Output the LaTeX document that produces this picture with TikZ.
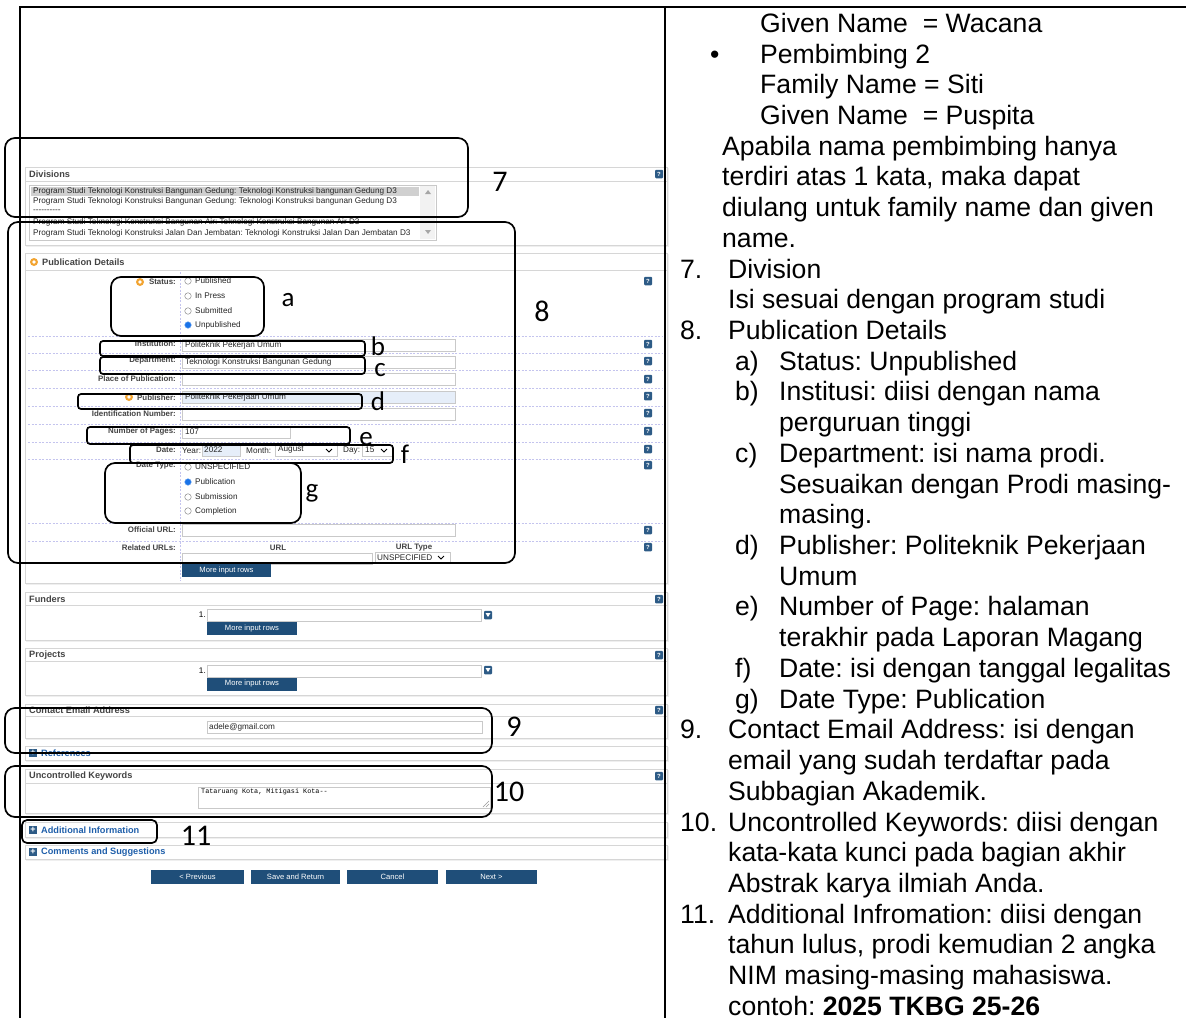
\documentclass[tikz,border=0pt]{standalone}
\usepackage{fontspec}
\setmainfont{Liberation Sans}
\setmonofont{Liberation Mono}
\newfontfamily\annfont{Carlito}
\frenchspacing
\definecolor{panelgray}{HTML}{D6D6D6}
\definecolor{shadowgray}{HTML}{EFEFEF}
\definecolor{inputgray}{HTML}{C9C9C9}
\definecolor{dashblue}{HTML}{C4C4EE}
\definecolor{helpblue}{HTML}{2D5B86}
\definecolor{btnblue}{HTML}{1F4E79}
\definecolor{linkblue}{HTML}{1F5FAA}
\definecolor{selgray}{HTML}{D0D0D0}
\definecolor{inputblue}{HTML}{E6EEF9}
\definecolor{orangeic}{HTML}{F2A431}
\definecolor{hdrgray}{HTML}{444444}
\definecolor{radioblue}{HTML}{1A73E8}
\newcommand\bigtxt{\fontsize{26.6}{30}\selectfont}
\newcommand\smtxt{\fontsize{8.2}{9}\selectfont}
\newcommand\lbtxt{\fontsize{7.9}{9}\selectfont\bfseries}
\newcommand\hdtxt{\fontsize{9.2}{10}\selectfont\bfseries}
\newcommand\rowy[1]{32.3+30.72*#1}
\tikzset{
  rt/.style={anchor=base west, inner sep=0, font=\bigtxt},
  panel/.style={draw=panelgray, fill=white, line width=0.8pt},
  pshadow/.style={fill=shadowgray},
  sepline/.style={draw=panelgray, line width=0.6pt},
  inp/.style={draw=inputgray, fill=white, line width=0.6pt},
  inpblue/.style={draw=inputgray, fill=inputblue, line width=0.6pt},
  hdr/.style={anchor=west, inner sep=0, font=\hdtxt, text=hdrgray},
  lbl/.style={anchor=east, inner sep=0, font=\lbtxt, text=hdrgray},
  sm/.style={anchor=west, inner sep=0, font=\smtxt, text=black!85},
  helpic/.style={fill=helpblue, minimum width=8pt, minimum height=8.5pt, inner sep=0, rounded corners=1pt, text=white, font=\fontsize{6}{6}\selectfont\bfseries},
  plusic/.style={fill=helpblue, minimum width=8pt, minimum height=8pt, inner sep=0, text=white, font=\fontsize{9}{9}\selectfont\bfseries},
  radio/.style={circle, draw=black!45, fill=white, minimum size=6.5pt, inner sep=0, line width=0.5pt},
  radiosel/.style={circle, draw=radioblue!70, fill=radioblue, minimum size=6.5pt, inner sep=0, line width=0.5pt},
  btn/.style={fill=btnblue, text=white, inner sep=0, font=\fontsize{7.6}{8}\selectfont},
  dashrow/.style={draw=dashblue, line width=0.6pt, dash pattern=on 2pt off 1.5pt},
  annot/.style={draw=black, line width=1.7pt, rounded corners=10pt},
  annotsm/.style={draw=black, line width=1.7pt, rounded corners=3pt},
  annlbl/.style={inner sep=0, font=\annfont\fontsize{30}{30}\selectfont},
  annlet/.style={inner sep=0, font=\annfont\fontsize{27}{27}\selectfont},
  link/.style={anchor=west, inner sep=0, font=\hdtxt, text=linkblue},
  orangeic/.style={circle, fill=orangeic, minimum size=8pt, inner sep=0},
  chev/.style={draw=black, line width=1pt},
  border/.style={draw=black, line width=2pt}
}
\begin{document}
\begin{tikzpicture}[x=1pt,y=-1pt]
\useasboundingbox (0,0) rectangle (1186,1018);
\fill[white] (0,0) rectangle (1186,1018);

% ===== Divisions panel =====
\fill[pshadow] (26,168) rectangle (669,247);
\draw[panel] (25,167) rectangle (667,245);
\draw[sepline] (25,181) -- (667,181);
\node[hdr] (hdiv) at (29,174) {Divisions};
\node[helpic] (qdiv) at (659,174) {?};
\draw[inp] (29,185) rectangle (436,240);
\fill[selgray] (31,187) rectangle (419,196);
\fill[black!5] (420,186) rectangle (435,239);
\fill[black!35] (425,194) -- (431,194) -- (428,190) -- cycle;
\fill[black!35] (425,230) -- (431,230) -- (428,234) -- cycle;
\node[sm] (d1) at (33,191) {Program Studi Teknologi Konstruksi Bangunan Gedung: Teknologi Konstruksi bangunan Gedung D3};
\node[sm] (d2) at (33,201) {Program Studi Teknologi Konstruksi Bangunan Gedung: Teknologi Konstruksi bangunan Gedung D3};
\node[sm] (d3) at (33,211) {-{}-{}-{}-{}-{}-{}-{}-{}-{}-};
\node[sm] (d4) at (33,222) {Program Studi Teknologi Konstruksi Bangunan Air: Teknologi Konstruksi Bangunan Air D3};
\node[sm] (d5) at (33,233) {Program Studi Teknologi Konstruksi Jalan Dan Jembatan: Teknologi Konstruksi Jalan Dan Jembatan D3};

% ===== Publication Details panel =====
\fill[pshadow] (26,254) rectangle (669,585);
\draw[panel] (25,253) rectangle (667,583);
\draw[sepline] (25,270) -- (667,270);
\node[orangeic] (opd) at (34,262) {};
\fill[white] (opd.center) circle (1.8pt);
\node[hdr] (hpd) at (42,262) {Publication Details};
\draw[dashrow] (180,272) -- (180,581);
\foreach \yy in {336,353,370,388,406,424,442,459,523,541}
  \draw[dashrow] (28,\yy) -- (663,\yy);

% Status
\node[orangeic] (ost) at (140,282) {};
\fill[white] (ost.center) circle (1.8pt);
\node[lbl] (lst) at (176,282) {Status:};
\node[radio] (r1) at (188,281) {};
\node[sm] (s1) at (195,281) {Published};
\node[radio] (r2) at (188,296) {};
\node[sm] (s2) at (195,296) {In Press};
\node[radio] (r3) at (188,311) {};
\node[sm] (s3) at (195,311) {Submitted};
\node[radiosel] (r4) at (188,325) {};
\node[sm] (s4) at (195,325) {Unpublished};
\node[helpic] (q1) at (648,281) {?};

% Institution
\node[lbl] (linst) at (176,344) {Institution:};
\draw[inp] (182,339) rectangle (455,351);
\node[sm] (vinst) at (185,345) {Politeknik Pekerjan Umum};
\node[helpic] (q2) at (648,344) {?};
% Department
\node[lbl] (ldep) at (176,361) {Department:};
\draw[inp] (182,356) rectangle (455,368);
\node[sm] (vdep) at (185,362) {Teknologi Konstruksi Bangunan Gedung};
\node[helpic] (q3) at (648,361) {?};
% Place
\node[lbl] (lplace) at (176,379) {Place of Publication:};
\draw[inp] (182,373) rectangle (455,385);
\node[helpic] (q4) at (648,379) {?};
% Publisher
\node[orangeic] (opub) at (129,397) {};
\fill[white] (opub.center) circle (1.8pt);
\node[lbl] (lpub) at (176,398) {Publisher:};
\draw[inpblue] (182,391) rectangle (455,403);
\node[sm] (vpub) at (185,397) {Politeknik Pekerjaan Umum};
\node[helpic] (q5) at (648,396) {?};
% Identification
\node[lbl] (lid) at (176,414) {Identification Number:};
\draw[inp] (182,408) rectangle (455,420);
\node[helpic] (q6) at (648,413) {?};
% Pages
\node[lbl] (lpg) at (176,431) {Number of Pages:};
\draw[inp] (182,426) rectangle (290,438);
\node[sm] (vpg) at (185,432) {107};
\node[helpic] (q7) at (648,431) {?};
% Date
\node[lbl] (ldate) at (176,450) {Date:};
\node[sm] (yr) at (182,451) {Year:};
\draw[inpblue] (202,445) rectangle (240,456);
\node[sm] (vyr) at (204,450) {2022};
\node[sm] (mo) at (246,451) {Month:};
\draw[inp] (275,445) rectangle (337,456);
\node[sm] (vmo) at (278,450) {August};
\draw[chev] (326,449) -- (329,452) -- (332,449);
\node[sm] (dy) at (343,451) {Day:};
\draw[inp] (362,445) rectangle (392,456);
\node[sm] (vdy) at (365,450) {15};
\draw[chev] (381,449) -- (384,452) -- (387,449);
\node[helpic] (q8) at (648,449) {?};
% Date type
\node[lbl] (ldt) at (176,466) {Date Type:};
\node[radio] (t1) at (188,467) {};
\node[sm] (dt1) at (195,467) {UNSPECIFIED};
\node[radiosel] (t2) at (188,482) {};
\node[sm] (dt2) at (195,482) {Publication};
\node[radio] (t3) at (188,497) {};
\node[sm] (dt3) at (195,497) {Submission};
\node[radio] (t4) at (188,511) {};
\node[sm] (dt4) at (195,511) {Completion};
\node[helpic] (q9) at (648,465) {?};
% Official URL
\node[lbl] (lurl) at (176,530) {Official URL:};
\draw[inp] (182,524) rectangle (455,536);
\node[helpic] (q10) at (648,530) {?};
% Related URLs
\node[lbl] (lrel) at (176,548) {Related URLs:};
\node[inner sep=0, font=\lbtxt, text=hdrgray] (hurl) at (278,548) {URL};
\node[inner sep=0, font=\lbtxt, text=hdrgray] (hurlt) at (414,548) {URL Type};
\draw[inp] (182,553) rectangle (372,564);
\draw[inp] (375,552) rectangle (450,563);
\node[sm] (vut) at (377,558) {UNSPECIFIED};
\draw[chev] (438,556) -- (441,559) -- (444,556);
\node[helpic] (q11) at (648,547) {?};
\node[btn, minimum width=89pt, minimum height=13pt] (bmore1) at (226.5,570.5) {More input rows};

% ===== Funders =====
\fill[pshadow] (26,593) rectangle (669,642);
\draw[panel] (25,592) rectangle (667,640);
\draw[sepline] (25,605) -- (667,605);
\node[hdr] (hfund) at (29,599) {Funders};
\node[helpic] (qf) at (659,599) {?};
\node[anchor=east, inner sep=0, font=\smtxt] (nf) at (206,615) {1.};
\draw[inp] (207,609) rectangle (481,621);
\node[helpic] (ddf) at (488,615) {};
\fill[white] (485.5,613) -- (490.5,613) -- (488,617) -- cycle;
\node[btn, minimum width=90pt, minimum height=13pt] (bmore2) at (252,628.5) {More input rows};

% ===== Projects =====
\fill[pshadow] (26,649) rectangle (669,697);
\draw[panel] (25,648) rectangle (667,695);
\draw[sepline] (25,661) -- (667,661);
\node[hdr] (hproj) at (29,655) {Projects};
\node[helpic] (qp) at (659,655) {?};
\node[anchor=east, inner sep=0, font=\smtxt] (np) at (206,671) {1.};
\draw[inp] (207,665) rectangle (481,677);
\node[helpic] (ddp) at (488,670) {};
\fill[white] (485.5,668) -- (490.5,668) -- (488,672) -- cycle;
\node[btn, minimum width=90pt, minimum height=13pt] (bmore3) at (252,684) {More input rows};

% ===== Contact Email =====
\fill[pshadow] (26,705) rectangle (669,740);
\draw[panel] (25,704) rectangle (667,738);
\draw[sepline] (25,716) -- (667,716);
\node[hdr] (hmail) at (29,710) {Contact Email Address};
\node[helpic] (qm) at (659,710) {?};
\draw[inp] (207,721) rectangle (482,733);
\node[sm] (vmail) at (209,727) {adele@gmail.com};

% ===== References =====
\fill[pshadow] (26,747) rectangle (669,762);
\draw[panel] (25,746) rectangle (667,760);
\node[plusic] (pref) at (33,753) {+};
\node[link] (lref) at (41,753) {References};

% ===== Uncontrolled Keywords =====
\fill[pshadow] (26,770) rectangle (669,815);
\draw[panel] (25,769) rectangle (667,813);
\draw[sepline] (25,783) -- (667,783);
\node[hdr] (hkw) at (29,776) {Uncontrolled Keywords};
\node[helpic] (qk) at (659,776) {?};
\draw[inp] (198,787) rectangle (490,808);
\node[anchor=west, inner sep=0, font=\ttfamily\fontsize{6.8}{7}\selectfont] (vkw) at (201,792) {Tataruang Kota, Mitigasi Kota-{}-};
\draw[black!40, line width=0.4pt] (483,807) -- (489,801) (486,807) -- (489,804);

% ===== Additional Information =====
\fill[pshadow] (26,823) rectangle (669,839);
\draw[panel] (25,822) rectangle (667,837);
\node[plusic] (padd) at (33,830) {+};
\node[link] (ladd) at (41,830) {Additional Information};

% ===== Comments =====
\fill[pshadow] (26,846) rectangle (669,861);
\draw[panel] (25,845) rectangle (667,859);
\node[plusic] (pcom) at (33,852) {+};
\node[link] (lcom) at (41,852) {Comments and Suggestions};

% ===== Bottom buttons =====
\node[btn, minimum width=93pt, minimum height=14pt] (bprev) at (197.5,877) {< Previous};
\node[btn, minimum width=89pt, minimum height=14pt] (bsave) at (295.5,877) {Save and Return};
\node[btn, minimum width=91pt, minimum height=14pt] (bcancel) at (392.5,877) {Cancel};
\node[btn, minimum width=91pt, minimum height=14pt] (bnext) at (491.5,877) {Next >};

% ===== Annotation boxes =====
\draw[annot] (5,138) rectangle (468,217);
\node[annlbl] (a7) at (500,182) {7};
\draw[annot] (8,222) rectangle (515,563);
\node[annlbl] (a8) at (542,311) {8};
\draw[annot] (111,277) rectangle (264,336);
\node[annlet] (aa) at (288,300) {a};
\draw[annotsm] (100,341) rectangle (365,356);
\node[annlet, anchor=base] (ab) at (378,355) {b};
\draw[annotsm] (100,357) rectangle (365,374);
\node[annlet, anchor=base] (ac) at (380,376) {c};
\draw[annotsm] (78,394) rectangle (362,409);
\node[annlet, anchor=base] (ad) at (378,410) {d};
\draw[annotsm] (87,427) rectangle (350,444);
\node[annlet, anchor=base] (ae) at (366,445) {e};
\draw[annotsm] (130,445) rectangle (393,463);
\node[annlet, anchor=base] (af) at (405,463) {f};
\draw[annot] (105,463) rectangle (301,523);
\node[annlet, anchor=base] (ag) at (312,497) {g};
\draw[annot] (5,708) rectangle (492,753);
\node[annlbl] (a9) at (514,727) {9};
\draw[annot] (5,766) rectangle (492,817);
\node[annlbl] (a10) at (509,792) {10};
\draw[annot, rounded corners=5pt] (22,820) rectangle (157,843);
\node[annlbl] (a11) at (196,836) {11};

% ===== Table borders =====
\draw[border] (20,7) -- (1186,7);
\draw[border] (20,6) -- (20,1018);
\draw[border] (665,6) -- (665,1018);

% ===== Right column text =====
\node[rt] (t0) at (760,{\rowy{0}}) {Given Name~ = Wacana};
\node[rt] (bul) at (710,{\rowy{1}}) {•};
\node[rt] (tt1) at (760,{\rowy{1}}) {Pembimbing 2};
\node[rt] (tt2) at (760,{\rowy{2}}) {Family Name = Siti};
\node[rt] (tt3) at (760,{\rowy{3}}) {Given Name~ = Puspita};
\node[rt] (tt4) at (722,{\rowy{4}}) {Apabila nama pembimbing hanya};
\node[rt] (tt5) at (722,{\rowy{5}}) {terdiri atas 1 kata, maka dapat};
\node[rt] (tt6) at (722,{\rowy{6}}) {diulang untuk family name dan given};
\node[rt] (tt7) at (722,{\rowy{7}}) {name.};
\node[rt] (n7) at (680,{\rowy{8}}) {7.};
\node[rt] (tt8) at (728,{\rowy{8}}) {Division};
\node[rt] (tt9) at (728,{\rowy{9}}) {Isi sesuai dengan program studi};
\node[rt] (n8) at (680,{\rowy{10}}) {8.};
\node[rt] (tt10) at (728,{\rowy{10}}) {Publication Details};
\node[rt] (la) at (735,{\rowy{11}}) {a)};
\node[rt] (tt11) at (779,{\rowy{11}}) {Status: Unpublished};
\node[rt] (lb) at (735,{\rowy{12}}) {b)};
\node[rt] (tt12) at (779,{\rowy{12}}) {Institusi: diisi dengan nama};
\node[rt] (tt13) at (779,{\rowy{13}}) {perguruan tinggi};
\node[rt] (lc) at (735,{\rowy{14}}) {c)};
\node[rt] (tt14) at (779,{\rowy{14}}) {Department: isi nama prodi.};
\node[rt] (tt15) at (779,{\rowy{15}}) {Sesuaikan dengan Prodi masing-};
\node[rt] (tt16) at (779,{\rowy{16}}) {masing.};
\node[rt] (ld) at (735,{\rowy{17}}) {d)};
\node[rt] (tt17) at (779,{\rowy{17}}) {Publisher: Politeknik Pekerjaan};
\node[rt] (tt18) at (779,{\rowy{18}}) {Umum};
\node[rt] (le) at (735,{\rowy{19}}) {e)};
\node[rt] (tt19) at (779,{\rowy{19}}) {Number of Page: halaman};
\node[rt] (tt20) at (779,{\rowy{20}}) {terakhir pada Laporan Magang};
\node[rt] (lf) at (735,{\rowy{21}}) {f)};
\node[rt] (tt21) at (779,{\rowy{21}}) {Date: isi dengan tanggal legalitas};
\node[rt] (lg) at (735,{\rowy{22}}) {g)};
\node[rt] (tt22) at (779,{\rowy{22}}) {Date Type: Publication};
\node[rt] (n9) at (680,{\rowy{23}}) {9.};
\node[rt] (tt23) at (728,{\rowy{23}}) {Contact Email Address: isi dengan};
\node[rt] (tt24) at (728,{\rowy{24}}) {email yang sudah terdaftar pada};
\node[rt] (tt25) at (728,{\rowy{25}}) {Subbagian Akademik.};
\node[rt] (n10) at (680,{\rowy{26}}) {10.};
\node[rt] (tt26) at (728,{\rowy{26}}) {Uncontrolled Keywords: diisi dengan};
\node[rt] (tt27) at (728,{\rowy{27}}) {kata-kata kunci pada bagian akhir};
\node[rt] (tt28) at (728,{\rowy{28}}) {Abstrak karya ilmiah Anda.};
\node[rt] (n11) at (680,{\rowy{29}}) {11.};
\node[rt] (tt29) at (728,{\rowy{29}}) {Additional Infromation: diisi dengan};
\node[rt] (tt30) at (728,{\rowy{30}}) {tahun lulus, prodi kemudian 2 angka};
\node[rt] (tt31) at (728,{\rowy{31}}) {NIM masing-masing mahasiswa.};
\node[rt] (tt32) at (728,{\rowy{32}}) {contoh: \textbf{2025 TKBG 25-26}};
\end{tikzpicture}
\end{document}
